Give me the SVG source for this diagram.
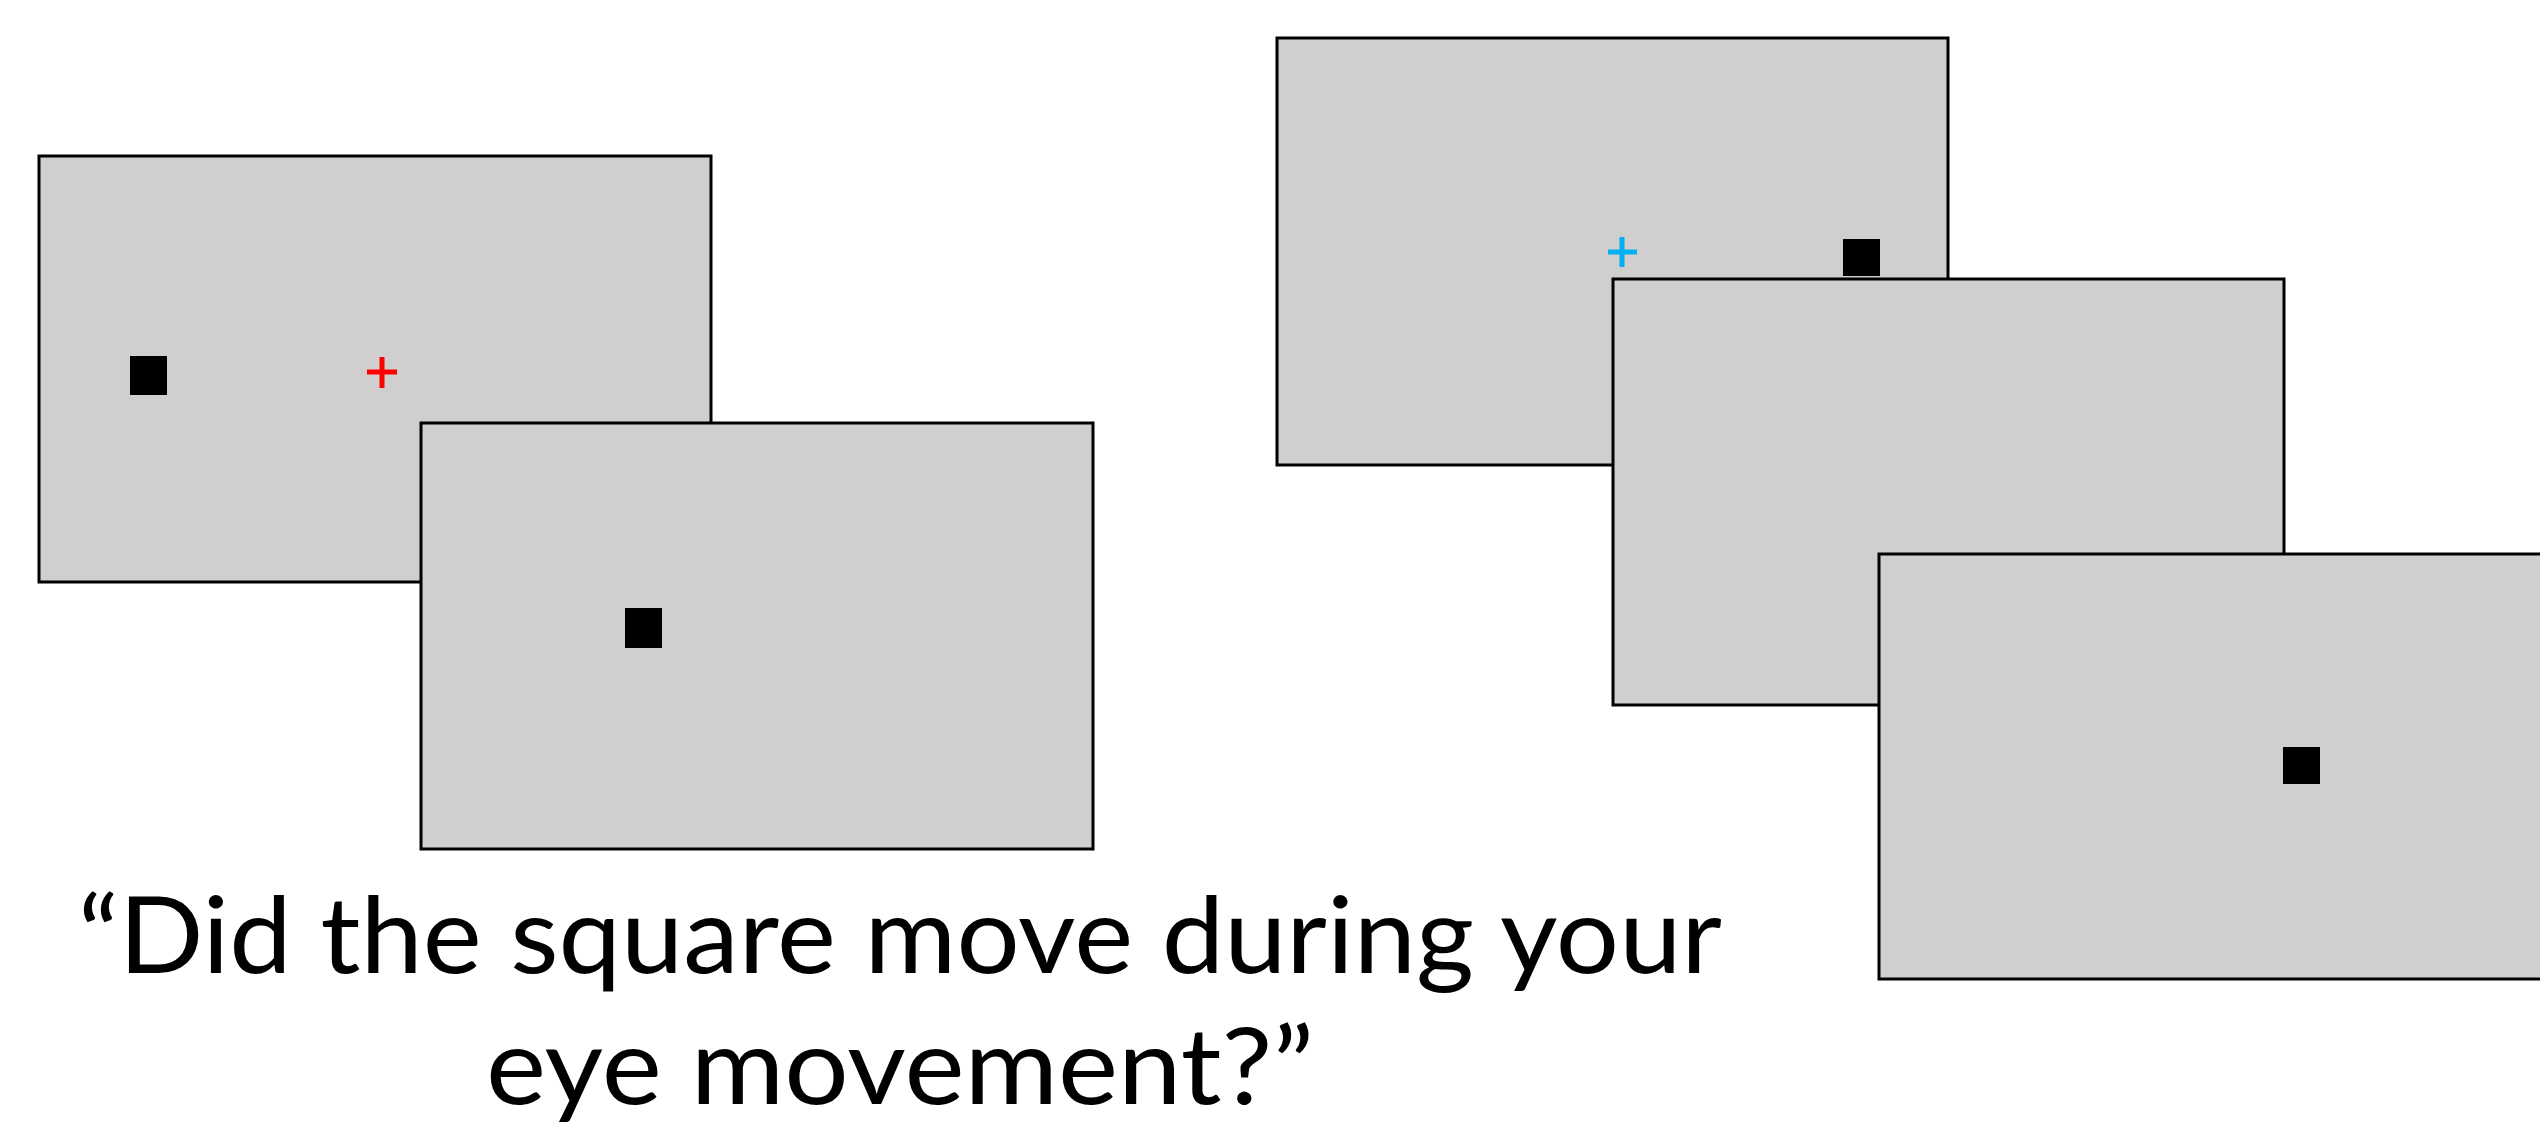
<svg xmlns="http://www.w3.org/2000/svg" width="2540" height="1129" viewBox="0 0 2540 1129">
<style>
.screen{fill:#d0cecf;stroke:#000;stroke-width:3}
.sq{fill:#000}
.q{font-family:Lato,"Open Sans","Liberation Sans",sans-serif;font-size:106px;fill:#000}
</style>
<rect width="2540" height="1129" fill="#fff"/>
<g id="screen1"><rect class="screen" x="39" y="156" width="672" height="426"/><rect class="sq" x="130" y="356" width="37" height="39"/><path d="M382 357V388M367 372H397" stroke="#ff0000" stroke-width="5"/></g>
<g id="screen2"><rect class="screen" x="421" y="423" width="672" height="426"/><rect class="sq" x="625" y="608" width="37" height="40"/></g>
<g id="screen3"><rect class="screen" x="1277" y="38" width="671" height="427"/><rect class="sq" x="1843" y="239" width="37" height="37"/><path d="M1622 237V267M1608 252H1637" stroke="#00b0f0" stroke-width="5"/></g>
<g id="screen4"><rect class="screen" x="1613" y="279" width="671" height="426"/></g>
<g id="screen5"><rect class="screen" x="1879" y="554" width="680" height="425"/><rect class="sq" x="2283" y="747" width="37" height="37"/></g>
<g id="connectors"/>
<g id="question">
<text class="q" x="78" y="973" textLength="1644" lengthAdjust="spacingAndGlyphs">“Did the square move during your</text>
<text class="q" x="486" y="1104" textLength="828" lengthAdjust="spacingAndGlyphs">eye movement?”</text>
</g>
</svg>
